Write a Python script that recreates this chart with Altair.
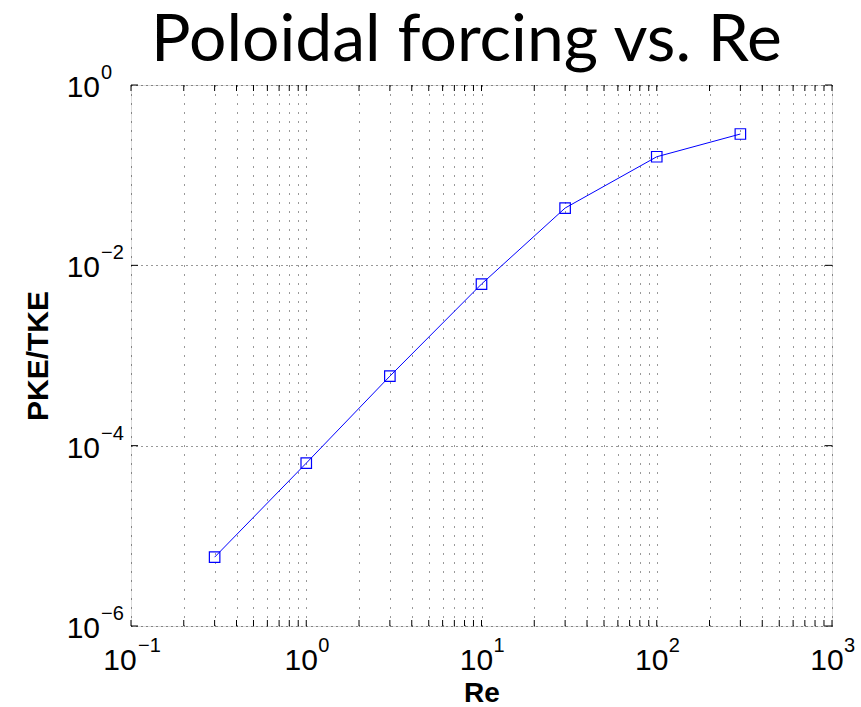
import altair as alt
import pandas as pd

# ---- data ----
re_vals = [0.3, 1, 3, 10, 30, 100, 300]
pke_tke = [5.8e-6, 6.4e-5, 5.9e-4, 6.2e-3, 0.0432, 0.160, 0.286]

x_label_vals = [0.1, 1, 10, 100, 1000]
x_label_exps = ["\u22121", "0", "1", "2", "3"]
y_label_vals = [1e-6, 1e-4, 1e-2, 1]
y_label_exps = ["\u22126", "\u22124", "\u22122", "0"]

x_tick_vals = [m * 10.0 ** e for e in range(-1, 3) for m in range(1, 10)] + [1000.0]
y_grid_vals = [1e-6, 1e-4, 1e-2, 1]

W, H = 701, 541
FONT = "Liberation Sans"

xscale = alt.Scale(type="log", domain=[0.1, 1000], nice=False)
yscale = alt.Scale(type="log", domain=[1e-6, 1], nice=False)

df = pd.DataFrame({"Re": re_vals, "ratio": pke_tke})
xlab = pd.DataFrame({"x": x_label_vals, "exp": x_label_exps,
                     "neg": [e.startswith("\u2212") for e in x_label_exps]})
ylab = pd.DataFrame({"y": y_label_vals, "exp": y_label_exps})
xt = pd.DataFrame({"x": x_tick_vals})
yt = pd.DataFrame({"y": y_grid_vals})

xaxis = alt.Axis(title="Re", labels=False, ticks=False, domain=False,
                 values=x_tick_vals, grid=True, gridDash=[1, 8],
                 gridColor="#000000", gridOpacity=0.8, gridWidth=1,
                 titleFont=FONT, titleFontSize=28, titleFontWeight="bold",
                 titleColor="#000000", titleY=75, titleBaseline="alphabetic")
yaxis = alt.Axis(title="PKE/TKE", labels=False, ticks=False, domain=False,
                 values=y_grid_vals, grid=True, gridDash=[1, 4],
                 gridColor="#000000", gridOpacity=0.8, gridWidth=1,
                 titleFont=FONT, titleFontSize=30, titleFontWeight="bold",
                 titleColor="#000000", titleX=-84, titleY=H / 2,
                 titleAngle=270, titleAlign="center", titleBaseline="alphabetic")

line = alt.Chart(df).mark_line(color="#0000ff", strokeWidth=1).encode(
    x=alt.X("Re:Q", scale=xscale, axis=xaxis),
    y=alt.Y("ratio:Q", scale=yscale, axis=yaxis),
)
pts = alt.Chart(df).mark_point(shape="square", size=110, filled=False,
                               color="#0000ff", strokeWidth=1.2, opacity=1).encode(
    x=alt.X("Re:Q", scale=xscale),
    y=alt.Y("ratio:Q", scale=yscale),
)

# inward tick marks (MATLAB style)
tick_bottom = alt.Chart(xt).mark_rule(color="#000000", strokeWidth=1).encode(
    x=alt.X("x:Q", scale=xscale), y=alt.value(H), y2=alt.value(H - 6))
tick_top = alt.Chart(xt).mark_rule(color="#000000", strokeWidth=1).encode(
    x=alt.X("x:Q", scale=xscale), y=alt.value(0), y2=alt.value(6))
tick_left = alt.Chart(yt).mark_rule(color="#000000", strokeWidth=1).encode(
    y=alt.Y("y:Q", scale=yscale), x=alt.value(0), x2=alt.value(7))
tick_right = alt.Chart(yt).mark_rule(color="#000000", strokeWidth=1).encode(
    y=alt.Y("y:Q", scale=yscale), x=alt.value(W), x2=alt.value(W - 7))

# y tick labels: "10" + superscript exponent
ybase = alt.Chart(ylab).mark_text(font=FONT, fontSize=30, align="right",
                                   baseline="alphabetic", dy=12, color="#000000").encode(
    y=alt.Y("y:Q", scale=yscale), x=alt.value(-31), text=alt.value("10"))
yexp = alt.Chart(ylab).mark_text(font=FONT, fontSize=20, align="left",
                                  baseline="alphabetic", dy=-6, color="#000000").encode(
    y=alt.Y("y:Q", scale=yscale), x=alt.value(-30), text="exp:N")

# x tick labels
xbase_pos = alt.Chart(xlab).transform_filter("!datum.neg").mark_text(
    font=FONT, fontSize=30, align="center", baseline="alphabetic", dx=-5,
    color="#000000").encode(x=alt.X("x:Q", scale=xscale), y=alt.value(585),
                            text=alt.value("10"))
xexp_pos = alt.Chart(xlab).transform_filter("!datum.neg").mark_text(
    font=FONT, fontSize=20, align="left", baseline="alphabetic", dx=12,
    color="#000000").encode(x=alt.X("x:Q", scale=xscale), y=alt.value(567),
                            text="exp:N")
xbase_neg = alt.Chart(xlab).transform_filter("datum.neg").mark_text(
    font=FONT, fontSize=30, align="center", baseline="alphabetic", dx=-11,
    color="#000000").encode(x=alt.X("x:Q", scale=xscale), y=alt.value(585),
                            text=alt.value("10"))
xexp_neg = alt.Chart(xlab).transform_filter("datum.neg").mark_text(
    font=FONT, fontSize=20, align="left", baseline="alphabetic", dx=7,
    color="#000000").encode(x=alt.X("x:Q", scale=xscale), y=alt.value(567),
                            text="exp:N")

chart = alt.layer(
    line, pts, tick_bottom, tick_top, tick_left, tick_right,
    ybase, yexp, xbase_pos, xexp_pos, xbase_neg, xexp_neg,
).properties(
    width=W, height=H,
    autosize=alt.AutoSizeParams(type="none"),
    padding={"left": 131, "top": 85, "right": 29, "bottom": 81},
    title=alt.TitleParams("Poloidal forcing vs. Re", font="Lato", fontSize=66,
                          fontWeight="normal", color="#000000", anchor="middle",
                          frame="group", baseline="alphabetic", offset=-64, dx=-15),
).configure_view(stroke="#000000", strokeWidth=1.5).configure(background="white")

chart.save("out.html", embed_options={"renderer": "svg", "actions": False})
